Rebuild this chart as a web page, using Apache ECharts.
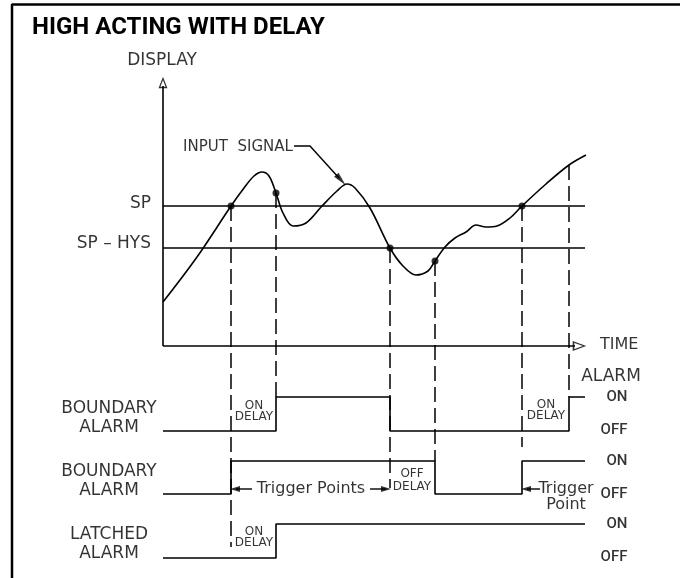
<!DOCTYPE html>
<html>
<head>
<meta charset="utf-8">
<script src="https://cdn.jsdelivr.net/npm/echarts@6/dist/echarts.min.js"></script>
<style>html,body{margin:0;background:#fff}#main{width:680px;height:578px}</style>
</head>
<body>
<div id="main"></div>
<script>
// diagram is drawn on a 680 x 578 value plane, y grows downward
var signal = [[163,302],[197,257],[231,206],[244,188],[254,176],[262,172],[269,176],[276,193],[283,213],[293,226],[306,223],[322,206],[337,191],[347,184],[355,188],[370,208],[390,248],[403,266],[416,275],[428,271],[435,261],[445,247],[455,238],[466,232],[476,225],[486,227],[497,226],[510,218],[522,206],[546,184],[569,165],[586,155]];
var crossings = [[231,206],[276,193],[390,248],[435,261],[522,206]];
var spLevel = 206;
var hysLevel = 248;
// guide: x, top, bottom
var guides = [[231,206,547],[276,193,397],[390,248,488],[435,261,461],[522,206,447],[569,165,397]];
// alarm outputs: [time, state]
var boundary1 = [[163,0],[276,1],[390,0],[569,1],[585,1]];
var boundary2 = [[163,0],[231,1],[435,0],[522,1],[585,1]];
var latched = [[163,0],[276,1],[585,1]];

var chart = echarts.init(document.getElementById('main'));

function steps(ev, on, off) {
  var y = ev[0][1] ? on : off;
  var pts = [[ev[0][0], y]];
  for (var i = 1; i < ev.length; i++) {
    var ny = ev[i][1] ? on : off;
    pts.push([ev[i][0], y]);
    if (ny !== y) { pts.push([ev[i][0], ny]); y = ny; }
  }
  return pts;
}

function seg(data, extra) {
  return Object.assign({
    type: 'line', data: data, symbol: 'none', silent: true, animation: false,
    lineStyle: {color: '#000', width: 1.6}
  }, extra || {});
}

var cad = 'DejaVu Sans';
function txt(x, y, s, size, extra) {
  return {value: [x, y], label: Object.assign({show: true, position: 'inside', formatter: s,
    fontFamily: cad, fontSize: size, color: '#000', align: 'center', verticalAlign: 'middle'}, extra || {})};
}
function onoff(x, y, s) {
  return txt(x, y, s, 15, {fontFamily: 'Roboto', fontWeight: 500});
}

var series = [];
series.push(seg([[12,578],[12,4.5],[680,4.5]], {lineStyle: {color: '#000', width: 2.5}}));
series.push(seg([[163,346],[163,86]]));
series.push(seg([[163,346],[575,346]]));
series.push(seg([[163,spLevel],[585,spLevel]]));
series.push(seg([[163,hysLevel],[585,hysLevel]]));
guides.forEach(function (g) {
  series.push(seg([[g[0],g[1]],[g[0],g[2]]], {lineStyle: {color: '#000', width: 1.5, type: [15, 6]}}));
});
series.push(seg(signal, {smooth: 0.35}));
series.push(seg(steps(boundary1, 397, 431)));
series.push(seg(steps(boundary2, 461, 494)));
series.push(seg(steps(latched, 524, 558)));
// arrows and leaders
series.push(seg([[236,489],[252,489]], {lineStyle: {color: '#000', width: 1.4}}));
series.push(seg([[370,489],[386,489]], {lineStyle: {color: '#000', width: 1.4}}));
series.push(seg([[527,489],[540,489]], {lineStyle: {color: '#000', width: 1.4}}));
series.push(seg([[294,146],[310,146],[339,178]], {lineStyle: {color: '#000', width: 1.4}}));

series.push({
  type: 'scatter', silent: true, animation: false, symbol: 'circle', symbolSize: 7,
  itemStyle: {color: '#000'}, data: crossings
});
series.push({
  type: 'scatter', silent: true, animation: false, symbol: 'triangle',
  itemStyle: {color: '#fff', borderColor: '#000', borderWidth: 1.4},
  data: [
    {value: [163,83], symbolSize: [7,9]},
    {value: [579,346], symbolSize: [8,11], symbolRotate: -90}
  ]
});
series.push({
  type: 'scatter', silent: true, animation: false, symbol: 'triangle',
  itemStyle: {color: '#000'},
  data: [
    {value: [235,489], symbolSize: [6,10], symbolRotate: 90},
    {value: [386,489], symbolSize: [6,10], symbolRotate: -90},
    {value: [526,489], symbolSize: [6,10], symbolRotate: 90},
    {value: [341,180], symbolSize: [6,14], symbolRotate: -138}
  ]
});
series.push({
  type: 'scatter', silent: true, animation: false, symbol: 'circle', symbolSize: 1,
  itemStyle: {color: 'rgba(0,0,0,0)'}, z: 5,
  data: [
    txt(162, 61, 'DISPLAY', 17),
    txt(238, 147, 'INPUT  SIGNAL', 15),
    txt(151, 204, 'SP', 17, {align: 'right'}),
    txt(151, 244, 'SP – HYS', 17, {align: 'right'}),
    txt(600, 345, 'TIME', 16, {align: 'left'}),
    txt(611, 377, 'ALARM', 17),
    txt(109, 418, 'BOUNDARY\nALARM', 17, {lineHeight: 19}),
    txt(109, 481, 'BOUNDARY\nALARM', 17, {lineHeight: 19}),
    txt(109, 544, 'LATCHED\nALARM', 17, {lineHeight: 19}),
    txt(254, 411, 'ON\nDELAY', 12, {lineHeight: 11}),
    txt(546, 410, 'ON\nDELAY', 12, {lineHeight: 11}),
    txt(254, 537, 'ON\nDELAY', 12, {lineHeight: 11}),
    txt(412, 480, 'OFF\nDELAY', 12, {lineHeight: 13}),
    txt(311, 489, 'Trigger Points', 16),
    txt(566, 497, 'Trigger\nPoint', 16, {lineHeight: 16}),
    onoff(617, 397, 'ON'), onoff(614, 430, 'OFF'),
    onoff(617, 461, 'ON'), onoff(614, 494, 'OFF'),
    onoff(617, 524, 'ON'), onoff(614, 557, 'OFF')
  ]
});

chart.setOption({
  animation: false,
  title: {text: 'HIGH ACTING WITH DELAY', left: 27, top: 11,
    textStyle: {fontFamily: 'Roboto', fontWeight: 'bold', fontSize: 24, color: '#000'}},
  grid: {left: 0, right: 0, top: 0, bottom: 0},
  xAxis: {type: 'value', min: 0, max: 680, show: false},
  yAxis: {type: 'value', min: 0, max: 578, inverse: true, show: false},
  series: series
});
</script>
</body>
</html>
